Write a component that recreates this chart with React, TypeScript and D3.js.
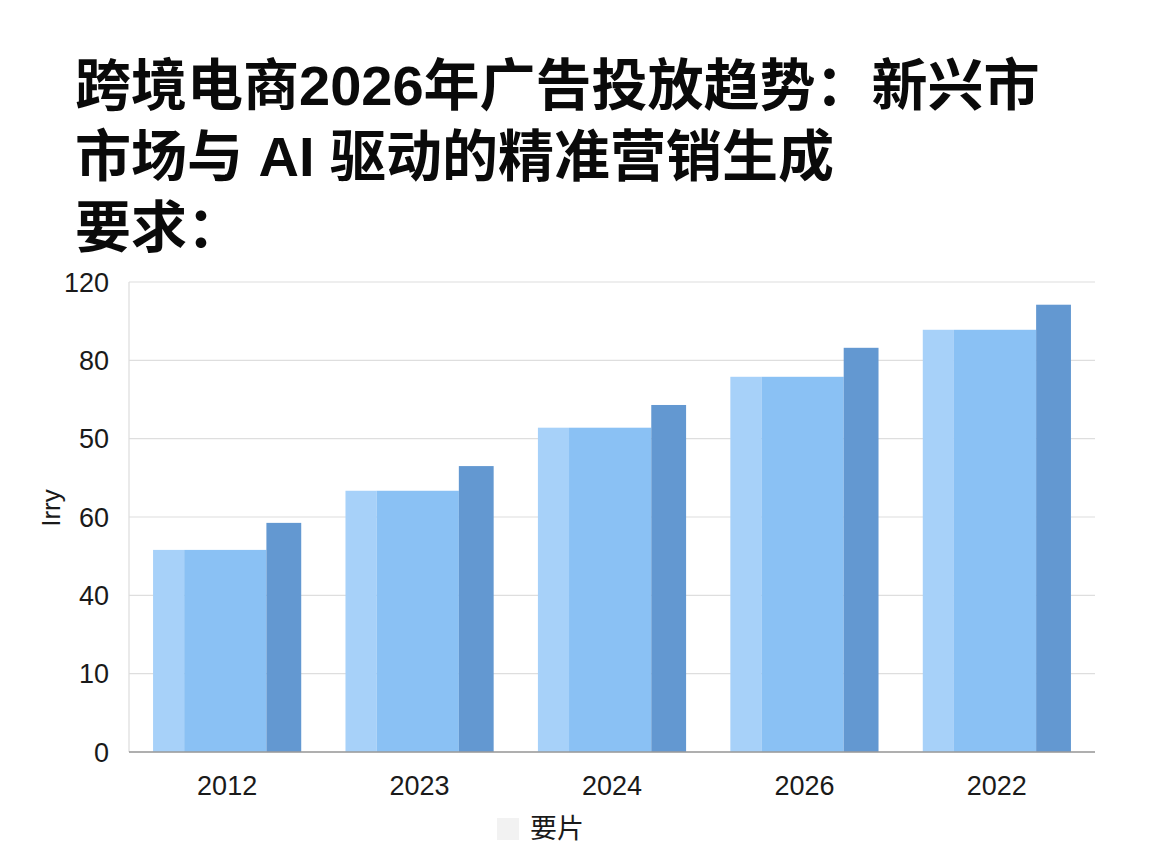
import React from 'react';
import * as d3 from 'd3';

// chart values
const titleLines = ['跨境电商2026年广告投放趋势：新兴市', '市场与 AI 驱动的精准营销生成', '要求：'];
const categories = ['2012', '2023', '2024', '2026', '2022'];
const baseValues = [51.6, 66.7, 82.8, 95.8, 107.8];
const peakValues = [58.5, 73.0, 88.6, 103.2, 114.2];
const tickValues = [0, 20, 40, 60, 80, 100, 120];
const tickLabels = ['0', '10', '40', '60', '50', '80', '120'];
const yAxisTitle = 'Irry';
const xAxisTitle = '要片';

const W = 1152;
const H = 864;
const margin = { top: 282, right: 57, bottom: 112, left: 129 };
const innerW = W - margin.left - margin.right;
const innerH = H - margin.top - margin.bottom;

const FONT = '"Noto Sans CJK SC", "Noto Sans", sans-serif';
// latin first: its metrics keep the title line boxes tight
const TITLE_FONT = '"Liberation Sans", "Noto Sans CJK SC", sans-serif';
const TICK_FONT = '"Liberation Sans", Arial, sans-serif';

export default function App() {
  const x = d3.scaleBand<string>()
    .domain(categories)
    .range([0, innerW])
    .paddingInner(0.23)
    .paddingOuter(0.125);

  const y = d3.scaleLinear().domain([0, 120]).range([innerH, 0]);

  // split each group into a light strip, a mid body and a dark bar
  const sub = d3.scaleLinear().domain([0, 1]).range([0, x.bandwidth()]);
  const cuts = [0, 0.21, 0.765, 1];

  return (
    <svg
      width={W}
      height={H}
      style={{ position: 'absolute', left: 0, top: 0, background: '#fff' }}
      fontFamily={FONT}
    >
      {/* title */}
      {titleLines.map((t, i) => (
        <text key={i} x={75} y={105 + i * 71} fontSize={56} fontWeight={700} fill="#0a0a0a" fontFamily={TITLE_FONT}>
          {t}
        </text>
      ))}

      <g transform={`translate(${margin.left},${margin.top})`}>
        {/* grid */}
        {tickValues.map((v) => (
          <line key={v} x1={0} x2={innerW} y1={y(v)} y2={y(v)} stroke="#dedede" strokeWidth={1.2} />
        ))}
        <line x1={0} x2={0} y1={0} y2={innerH} stroke="#dcdcdc" strokeWidth={1.2} />

        {/* y tick labels */}
        {tickValues.map((v, i) => (
          <text
            key={'t' + v}
            x={-20}
            y={y(v)}
            dy="0.36em"
            textAnchor="end"
            fontSize={27}
            fill="#1a1a1a"
            fontFamily={TICK_FONT}
          >
            {tickLabels[i]}
          </text>
        ))}

        {/* bars */}
        {categories.map((c, i) => {
          const x0 = x(c) ?? 0;
          return (
            <g key={c} transform={`translate(${x0},0)`}>
              <rect x={sub(cuts[0])} width={sub(cuts[1]) - sub(cuts[0])} y={y(baseValues[i])} height={innerH - y(baseValues[i])} fill="#a7d1f9" />
              <rect x={sub(cuts[1])} width={sub(cuts[2]) - sub(cuts[1])} y={y(baseValues[i])} height={innerH - y(baseValues[i])} fill="#8ac1f4" />
              <rect x={sub(cuts[2])} width={sub(cuts[3]) - sub(cuts[2])} y={y(peakValues[i])} height={innerH - y(peakValues[i])} fill="#6398d1" />
            </g>
          );
        })}

        {/* baseline */}
        <line x1={0} x2={innerW} y1={innerH} y2={innerH} stroke="#9a9a9a" strokeWidth={1.5} />

        {/* x tick labels */}
        {categories.map((c) => (
          <text
            key={'x' + c}
            x={(x(c) ?? 0) + x.bandwidth() / 2}
            y={innerH + 43}
            textAnchor="middle"
            fontSize={27}
            fill="#1a1a1a"
            fontFamily={TICK_FONT}
          >
            {c}
          </text>
        ))}
      </g>

      {/* axis titles */}
      <text
        transform={`translate(60,508) rotate(-90)`}
        textAnchor="middle"
        fontSize={26}
        fill="#1a1a1a"
        fontFamily={TICK_FONT}
      >
        {yAxisTitle}
      </text>
      <rect x={497} y={818} width={22} height={22} fill="#f2f2f2" />
      <text x={530} y={838} fontSize={27} fill="#1a1a1a">
        {xAxisTitle}
      </text>
    </svg>
  );
}
